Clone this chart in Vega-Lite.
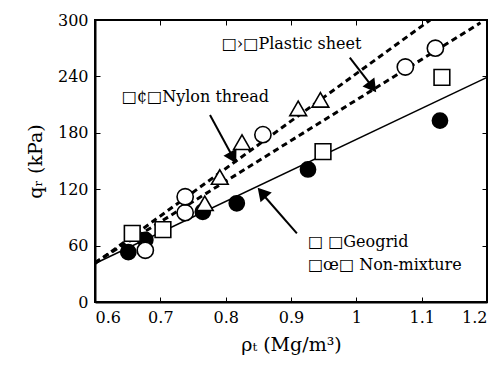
{
  "$schema": "https://vega.github.io/schema/vega-lite/v6.json",
  "width": 392,
  "height": 282,
  "autosize": "none",
  "padding": {"left": 95, "top": 20, "right": 11, "bottom": 69},
  "background": "white",
  "config": {
    "view": {"stroke": "black", "strokeWidth": 2},
    "font": "DejaVu Serif",
    "text": {"font": "DejaVu Serif"},
    "axis": {"grid": false, "domainColor": "black", "domainWidth": 2, "tickColor": "black", "labelColor": "black", "titleColor": "black", "labelFont": "DejaVu Serif", "titleFont": "DejaVu Serif", "labelFontSize": 16, "titleFontSize": 19, "titleFontWeight": "normal"}
  },
  "resolve": {"axis": {"x": "independent", "y": "independent"}},
  "layer": [
    {
      "data": {"values": [
        {"line": "Nylon thread", "rho": 0.6, "q": 41},
        {"line": "Nylon thread", "rho": 1.113, "q": 300},
        {"line": "Plastic sheet", "rho": 0.6, "q": 42},
        {"line": "Plastic sheet", "rho": 1.19, "q": 297}
      ]},
      "mark": {"type": "line", "color": "black", "strokeWidth": 3, "strokeDash": [6, 4], "clip": true},
      "encoding": {
        "x": {"field": "rho", "type": "quantitative", "scale": {"domain": [0.6, 1.2], "nice": false, "zero": false},
              "axis": {"orient": "bottom", "title": "ρₜ (Mg/m³)", "values": [0.6, 0.7, 0.8, 0.9, 1, 1.1, 1.2], "format": "~g", "tickSize": -5, "labelPadding": 12, "titlePadding": 10}},
        "y": {"field": "q", "type": "quantitative", "scale": {"domain": [0, 300], "nice": false},
              "axis": {"orient": "left", "title": "qᵣ (kPa)", "values": [0, 60, 120, 180, 240, 300], "tickSize": -5, "labelPadding": 12, "titlePadding": 12}},
        "detail": {"field": "line"}
      }
    },
    {
      "data": {"values": [
        {"rho": 0.6, "q": 41},
        {"rho": 1.2, "q": 239}
      ]},
      "mark": {"type": "line", "color": "black", "strokeWidth": 1.5},
      "encoding": {
        "x": {"field": "rho", "type": "quantitative", "axis": {"orient": "top", "labels": false, "title": null, "values": [0.7, 0.8, 0.9, 1, 1.1], "tickSize": -5, "domain": false}},
        "y": {"field": "q", "type": "quantitative", "axis": {"orient": "right", "labels": false, "title": null, "values": [60, 120, 180, 240], "tickSize": -5, "domain": false}}
      }
    },
    {
      "data": {"values": [
        {"series": "Non-mixture", "rho": 0.651, "q": 53},
        {"series": "Non-mixture", "rho": 0.677, "q": 66},
        {"series": "Non-mixture", "rho": 0.765, "q": 96},
        {"series": "Non-mixture", "rho": 0.817, "q": 105},
        {"series": "Non-mixture", "rho": 0.926, "q": 141},
        {"series": "Non-mixture", "rho": 1.128, "q": 193},
        {"series": "Geogrid", "rho": 0.657, "q": 73},
        {"series": "Geogrid", "rho": 0.704, "q": 77},
        {"series": "Geogrid", "rho": 0.949, "q": 160},
        {"series": "Geogrid", "rho": 1.131, "q": 239},
        {"series": "Plastic sheet", "rho": 0.677, "q": 55},
        {"series": "Plastic sheet", "rho": 0.738, "q": 95},
        {"series": "Plastic sheet", "rho": 0.738, "q": 112},
        {"series": "Plastic sheet", "rho": 0.857, "q": 178},
        {"series": "Plastic sheet", "rho": 1.075, "q": 250},
        {"series": "Plastic sheet", "rho": 1.121, "q": 270},
        {"series": "Nylon thread", "rho": 0.768, "q": 105},
        {"series": "Nylon thread", "rho": 0.791, "q": 133},
        {"series": "Nylon thread", "rho": 0.825, "q": 170},
        {"series": "Nylon thread", "rho": 0.911, "q": 206},
        {"series": "Nylon thread", "rho": 0.945, "q": 215}
      ]},
      "mark": {"type": "point", "stroke": "black", "strokeWidth": 1.6, "opacity": 1, "filled": false},
      "encoding": {
        "x": {"field": "rho", "type": "quantitative", "axis": null},
        "y": {"field": "q", "type": "quantitative", "axis": null},
        "shape": {"field": "series", "type": "nominal", "legend": null,
                  "scale": {"domain": ["Non-mixture", "Geogrid", "Plastic sheet", "Nylon thread"], "range": ["circle", "square", "circle", "triangle-up"]}},
        "fill": {"field": "series", "type": "nominal", "legend": null,
                 "scale": {"domain": ["Non-mixture", "Geogrid", "Plastic sheet", "Nylon thread"], "range": ["black", "white", "white", "white"]}},
        "size": {"field": "series", "type": "nominal", "legend": null,
                 "scale": {"domain": ["Non-mixture", "Geogrid", "Plastic sheet", "Nylon thread"], "range": [230, 280, 230, 210]}}
      }
    },
    {
      "data": {"values": [
        {"label": "□›□Plastic sheet", "rho": 0.794, "q": 274},
        {"label": "□¢□Nylon thread", "rho": 0.641, "q": 218},
        {"label": "□  □Geogrid", "rho": 0.926, "q": 64},
        {"label": "□œ□ Non-mixture", "rho": 0.926, "q": 39}
      ]},
      "mark": {"type": "text", "align": "left", "baseline": "middle", "fontSize": 16, "font": "DejaVu Serif", "color": "black"},
      "encoding": {
        "x": {"field": "rho", "type": "quantitative", "axis": null},
        "y": {"field": "q", "type": "quantitative", "axis": null},
        "text": {"field": "label"}
      }
    },
    {
      "data": {"values": [
        {"arrow": "Nylon", "rho": 0.776, "q": 199, "rho2": 0.808, "q2": 158},
        {"arrow": "Plastic", "rho": 0.99, "q": 260, "rho2": 1.021, "q2": 232},
        {"arrow": "Geogrid", "rho": 0.909, "q": 73, "rho2": 0.86, "q2": 112}
      ]},
      "mark": {"type": "rule", "color": "black", "strokeWidth": 2},
      "encoding": {
        "x": {"field": "rho", "type": "quantitative", "axis": null},
        "y": {"field": "q", "type": "quantitative", "axis": null},
        "x2": {"field": "rho2"},
        "y2": {"field": "q2"}
      }
    },
    {
      "data": {"values": [
        {"rho": 0.811, "q": 154, "dir": 151},
        {"rho": 1.024, "q": 229, "dir": 143},
        {"rho": 0.856, "q": 116, "dir": 319}
      ]},
      "mark": {"type": "point", "shape": "triangle-up", "filled": true, "fill": "black", "stroke": "black", "size": 130, "opacity": 1},
      "encoding": {
        "x": {"field": "rho", "type": "quantitative", "axis": null},
        "y": {"field": "q", "type": "quantitative", "axis": null},
        "angle": {"field": "dir", "type": "quantitative", "scale": {"domain": [0, 360], "range": [0, 360]}, "legend": null}
      }
    }
  ]
}
